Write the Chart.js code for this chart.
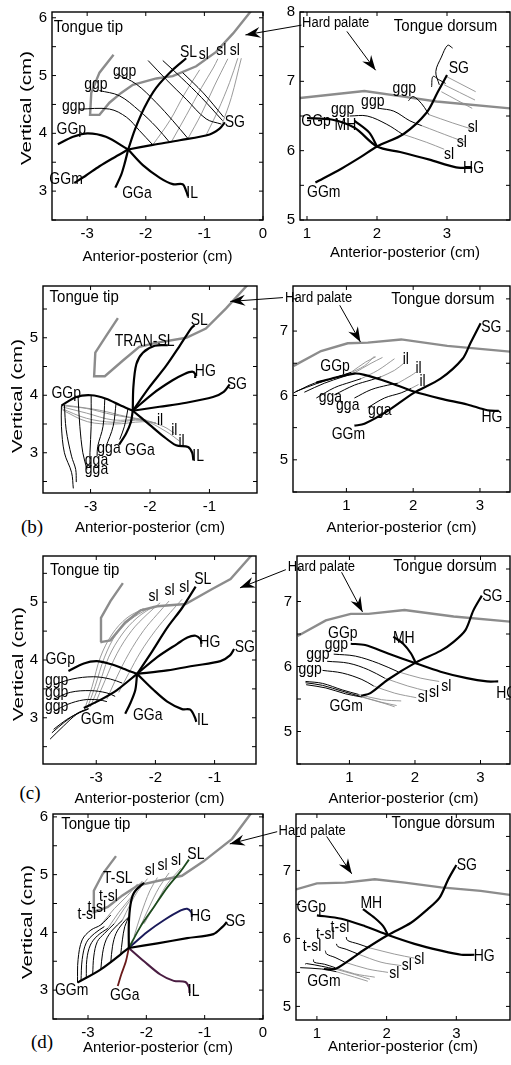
<!DOCTYPE html>
<html>
<head>
<meta charset="utf-8">
<script src="https://cdn.jsdelivr.net/npm/chart.js@4.4.0/dist/chart.umd.min.js"></script>
<style>
    body { margin: 0; background: #fff; width: 511px; height: 1065px; overflow: hidden; position: relative; }
    .tag { position: absolute; font-family: 'Liberation Serif', 'Times New Roman', serif; font-size: 19px; transform: translate(-50%, -50%); }
</style>
</head>
<body>
<div class="tag" style="left:32px;top:527px">(b)</div>
<div class="tag" style="left:30px;top:793px">(c)</div>
<div class="tag" style="left:42px;top:1042px">(d)</div>
<script>
/* ---------- tick labels ---------- */
const tip1X = [-3, -2, -1, 0]
const tip1Y = [3, 4, 5, 6]
const dor1X = [1, 2, 3]
const dor1Y = [5, 6, 7, 8]
const tip2X = [-3, -2, -1]
const tip2Y = [3, 4, 5]
const dor2X = [1, 2, 3]
const dor2Y = [5, 6, 7]
const tip3X = [-3, -2, -1]
const tip3Y = [3, 4, 5]
const dor3X = [1, 2, 3]
const dor3Y = [5, 6, 7]
const tip4X = [-3, -2, -1, 0]
const tip4Y = [3, 4, 5, 6]
const dor4X = [1, 2, 3]
const dor4Y = [5, 6, 7]

/* ---------- row 1, tongue tip ---------- */
const tip1Palate = [[-0.17, 6.16], [-0.51, 5.73], [-0.80, 5.41], [-1.14, 5.16], [-1.54, 4.99], [-1.82, 4.95], [-2.22, 4.84], [-2.42, 4.70], [-2.62, 4.53], [-2.79, 4.32], [-2.95, 4.32], [-2.93, 4.70], [-2.79, 5.05], [-2.55, 5.36]]
const tip1GGp = [[-3.50, 3.81], [-3.24, 3.94], [-2.99, 4.0], [-2.68, 3.94], [-2.30, 3.72]]
const tip1IL = [[-2.30, 3.72], [-2.05, 3.45], [-1.76, 3.23], [-1.54, 3.12], [-1.37, 3.12], [-1.31, 3.0], [-1.28, 2.91]]
const tip1GGm = [[-3.22, 3.14], [-3.02, 3.27], [-2.79, 3.43], [-2.56, 3.57], [-2.30, 3.72]]
const tip1GGa = [[-2.52, 3.06], [-2.42, 3.28], [-2.36, 3.48], [-2.30, 3.72]]
const tip1SL = [[-2.30, 3.72], [-2.19, 4.05], [-2.02, 4.45], [-1.82, 4.79], [-1.54, 5.10], [-1.31, 5.30]]
const tip1SG = [[-2.30, 3.72], [-1.88, 3.80], [-1.42, 3.88], [-0.91, 3.98], [-0.74, 4.08], [-0.65, 4.19]]
const tip1Ggp = [
    [[-3.13, 4.42], [-2.62, 4.42], [-2.33, 4.28], [-2.11, 4.05], [-1.88, 3.80]],
    [[-2.79, 4.74], [-2.45, 4.65], [-2.11, 4.39], [-1.82, 4.11], [-1.59, 3.84]],
    [[-2.50, 5.03], [-2.16, 4.85], [-1.82, 4.53], [-1.54, 4.22], [-1.28, 3.91]],
    [[-1.96, 5.26], [-1.65, 4.93], [-1.31, 4.59], [-0.97, 4.25], [-0.71, 4.16]],
    [[-1.71, 5.26], [-1.39, 4.96], [-1.05, 4.62], [-0.69, 4.22]],
    [[-1.37, 5.05], [-1.02, 4.70], [-0.67, 4.28]]
]
const tip1Sl = [
    [[-1.88, 3.80], [-1.59, 4.22], [-1.34, 4.68], [-1.08, 5.10]],
    [[-1.57, 3.84], [-1.31, 4.31], [-1.05, 4.79], [-0.85, 5.13], [-0.77, 5.29]],
    [[-1.28, 3.91], [-1.05, 4.34], [-0.83, 4.82], [-0.60, 5.29]],
    [[-0.97, 3.97], [-0.77, 4.39], [-0.57, 4.88], [-0.43, 5.30]],
    [[-0.69, 4.18], [-0.54, 4.62], [-0.37, 5.30]]
]
const tip1Labels = [['Tongue tip', -3.57, 5.84, 'title'], ['ggp', -2.36, 5.07], ['ggp', -2.85, 4.85], ['ggp', -3.23, 4.46], ['GGp', -3.27, 4.06], ['GGm', -3.36, 3.20], ['GGa', -2.15, 2.96], ['IL', -1.21, 2.95], ['SG', -0.48, 4.19], ['SL', -1.27, 5.40], ['sl', -1.01, 5.36], ['sl', -0.71, 5.43], ['sl', -0.48, 5.43]]

/* ---------- row 1, tongue dorsum ---------- */
const dor1Palate = [[0.9, 6.76], [1.82, 6.86], [2.38, 6.78], [2.85, 6.71], [3.9, 6.61]]
const dor1GGpHG = [[1.0, 6.47], [1.35, 6.45], [1.68, 6.33], [2.0, 6.06], [2.33, 5.98], [2.75, 5.87], [3.13, 5.76], [3.36, 5.75]]
const dor1GGmSG = [[1.12, 5.54], [1.49, 5.74], [1.77, 5.91], [2.0, 6.06], [2.38, 6.24], [2.71, 6.55], [2.87, 6.85], [3.0, 7.09]]
const dor1MH = [[1.68, 6.43], [1.89, 6.26], [2.0, 6.06]]
const dor1Hooks = [
    [[2.89, 6.95], [2.84, 7.14], [2.92, 7.35], [3.01, 7.52], [3.08, 7.48]],
    [[2.78, 6.92], [2.80, 7.07], [2.89, 7.02], [2.98, 6.97]]
]
const dor1Ggp = [
    [[1.61, 6.50], [1.86, 6.50], [2.14, 6.38], [2.36, 6.24]],
    [[2.03, 6.61], [2.24, 6.57], [2.47, 6.43], [2.64, 6.36]],
    [[2.45, 6.72], [2.51, 6.78], [2.59, 6.73], [2.68, 6.62], [2.74, 6.52]]
]
const dor1Sl = [
    [[2.36, 6.24], [2.71, 6.12], [2.96, 6.02]],
    [[2.64, 6.36], [3.08, 6.19], [3.27, 6.12]],
    [[2.74, 6.52], [3.08, 6.40], [3.36, 6.31]],
    [[2.99, 7.07], [3.41, 6.85]],
    [[2.96, 6.95], [3.40, 6.73]],
    [[2.92, 6.85], [3.36, 6.61]]
]
const dor1Labels = [['Hard palate', 0.93, 7.84, 'note'], ['Tongue dorsum', 2.24, 7.79, 'title'], ['ggp', 2.39, 6.89], ['ggp', 1.94, 6.71], ['ggp', 1.51, 6.59], ['GGp', 1.13, 6.42], ['MH', 1.55, 6.36], ['SG', 3.17, 7.18], ['sl', 3.37, 6.34], ['sl', 3.21, 6.12], ['sl', 3.03, 5.94], ['HG', 3.38, 5.74], ['GGm', 1.24, 5.39]]
const dor1Arrows = [[[0.92, 7.81], [0.12, 7.67]], [[1.57, 7.72], [1.98, 7.16]]]

/* ---------- row 2, tongue tip ---------- */
const tip2Palate = [[-0.2, 6.1], [-0.72, 5.51], [-1.06, 5.16], [-1.39, 5.0], [-1.90, 4.91], [-2.18, 4.84], [-2.46, 4.60], [-2.76, 4.33], [-2.94, 4.33], [-2.92, 4.74], [-2.74, 5.03], [-2.54, 5.34]]
const tip2GGp = [[-3.49, 3.82], [-3.24, 3.97], [-2.99, 4.0], [-2.74, 3.94], [-2.51, 3.83], [-2.29, 3.73]]
const tip2IL = [[-2.29, 3.73], [-2.01, 3.49], [-1.78, 3.29], [-1.56, 3.13], [-1.36, 3.10], [-1.29, 3.0], [-1.27, 2.87]]
const tip2GGa = [[-2.29, 3.73], [-2.32, 3.54], [-2.40, 3.34], [-2.52, 3.14]]
const tip2TranSL = [[-2.29, 3.73], [-2.28, 4.14], [-2.23, 4.54], [-2.12, 4.74], [-1.92, 4.86], [-1.70, 4.87]]
const tip2SL = [[-2.29, 3.73], [-2.01, 4.14], [-1.73, 4.51], [-1.50, 4.86], [-1.31, 5.16], [-1.25, 5.22]]
const tip2HG = [[-2.29, 3.73], [-1.95, 4.03], [-1.62, 4.26], [-1.42, 4.37], [-1.29, 4.41], [-1.24, 4.37], [-1.24, 4.30]]
const tip2SG = [[-2.29, 3.73], [-1.84, 3.80], [-1.39, 3.87], [-0.94, 3.97], [-0.76, 4.06], [-0.66, 4.19]]
const tip2Gga = [
    [[-3.49, 3.82], [-3.49, 3.46], [-3.44, 3.0], [-3.32, 2.66], [-3.29, 2.38]],
    [[-3.44, 3.83], [-3.41, 3.40], [-3.32, 2.94], [-3.25, 2.71], [-3.24, 2.49]],
    [[-3.21, 3.97], [-3.18, 3.46], [-3.13, 3.0], [-3.06, 2.71]],
    [[-2.99, 4.0], [-2.99, 3.46], [-3.01, 3.0], [-3.01, 2.77]],
    [[-2.76, 3.94], [-2.79, 3.46], [-2.88, 3.11], [-2.89, 2.94]],
    [[-2.57, 3.87], [-2.62, 3.46], [-2.74, 3.11]],
    [[-2.37, 3.77], [-2.43, 3.46], [-2.51, 3.23]]
]
const tip2Il = [
    [[-3.49, 3.82], [-3.07, 3.77], [-2.62, 3.66], [-2.12, 3.57], [-1.90, 3.51]],
    [[-3.49, 3.80], [-3.07, 3.69], [-2.62, 3.57], [-2.12, 3.57], [-1.78, 3.46], [-1.59, 3.34]],
    [[-3.49, 3.77], [-3.07, 3.60], [-2.62, 3.53], [-2.12, 3.56], [-1.73, 3.37], [-1.50, 3.20]],
    [[-3.47, 3.74], [-3.05, 3.54], [-2.60, 3.50], [-2.12, 3.54], [-1.90, 3.52]],
    [[-3.44, 3.83], [-2.85, 3.74], [-2.40, 3.63], [-2.06, 3.57]]
]
const tip2Labels = [['Tongue tip', -3.69, 5.70, 'title'], ['TRAN-SL', -2.09, 4.93], ['SL', -1.17, 5.30], ['HG', -1.07, 4.42], ['SG', -0.54, 4.19], ['GGp', -3.41, 4.03], ['il', -1.83, 3.56], ['il', -1.59, 3.39], ['il', -1.47, 3.20], ['IL', -1.19, 2.94], ['GGa', -2.17, 3.03], ['gga', -2.69, 3.07], ['gga', -2.90, 2.87], ['gga', -2.90, 2.71]]

/* ---------- row 2, tongue dorsum ---------- */
const dor2Palate = [[0.21, 6.46], [0.62, 6.69], [1.02, 6.81], [1.32, 6.82], [1.82, 6.87], [2.51, 6.77], [3.45, 6.68]]
const dor2GGpHG = [[0.55, 6.2], [0.77, 6.26], [1.12, 6.34], [1.27, 6.32], [1.62, 6.21], [2.01, 6.06], [2.41, 5.95], [2.81, 5.86], [3.11, 5.77], [3.28, 5.76]]
const dor2GGmSG = [[1.12, 5.53], [1.27, 5.56], [1.62, 5.76], [2.01, 6.04], [2.41, 6.26], [2.74, 6.57], [2.86, 6.82], [3.01, 7.12]]
const dor2Gga = [
    [[0.21, 6.04], [0.52, 6.19], [0.82, 6.27], [1.04, 6.34]],
    [[0.24, 6.06], [0.57, 6.19], [0.87, 6.29], [1.07, 6.36]],
    [[0.37, 6.05], [0.67, 6.19], [0.95, 6.29], [1.12, 6.35]],
    [[0.55, 5.96], [0.82, 6.12], [1.07, 6.21], [1.22, 6.26]],
    [[0.82, 6.01], [1.12, 6.16], [1.37, 6.24], [1.52, 6.29]],
    [[1.12, 5.96], [1.37, 6.09], [1.62, 6.16], [1.77, 6.19]],
    [[1.32, 5.81], [1.57, 5.96], [1.82, 6.04], [1.97, 6.11]]
]
const dor2Il = [
    [[1.04, 6.34], [1.27, 6.46], [1.42, 6.61]],
    [[1.07, 6.36], [1.29, 6.52], [1.44, 6.60]],
    [[1.12, 6.35], [1.37, 6.50], [1.54, 6.59]],
    [[1.22, 6.26], [1.47, 6.39], [1.72, 6.57]],
    [[1.52, 6.29], [1.72, 6.39], [1.86, 6.50]],
    [[1.77, 6.19], [1.97, 6.31], [2.04, 6.36]],
    [[1.97, 6.11], [2.08, 6.17]]
]
const dor2Labels = [['Hard palate', 0.08, 7.52, 'note'], ['Tongue dorsum', 1.67, 7.5, 'title'], ['SG', 3.17, 7.05], ['GGp', 0.83, 6.45], ['il', 1.89, 6.56], ['il', 2.08, 6.41], ['il', 2.14, 6.22], ['gga', 0.76, 5.97], ['gga', 1.02, 5.85], ['gga', 1.50, 5.77], ['GGm', 1.03, 5.40], ['HG', 3.18, 5.65]]
const dor2Arrows = [[[0.05, 7.52], [-0.74, 7.46]], [[0.90, 7.40], [1.21, 6.83]]]

/* ---------- row 3, tongue tip ---------- */
const tip3Palate = [[-0.3, 5.9], [-0.73, 5.40], [-1.04, 5.23], [-1.49, 4.97], [-1.97, 4.93], [-2.25, 4.86], [-2.51, 4.65], [-2.76, 4.34], [-2.93, 4.31], [-2.92, 4.73], [-2.76, 5.02], [-2.55, 5.33]]
const tip3GGp = [[-3.47, 3.81], [-3.21, 3.94], [-2.99, 3.98], [-2.76, 3.93], [-2.54, 3.85], [-2.31, 3.76]]
const tip3IL = [[-2.31, 3.76], [-2.03, 3.48], [-1.80, 3.28], [-1.55, 3.15], [-1.41, 3.14], [-1.33, 3.0], [-1.31, 2.93]]
const tip3GGa = [[-2.31, 3.76], [-2.34, 3.48], [-2.42, 3.26], [-2.51, 3.07]]
const tip3GGm = [[-2.31, 3.76], [-2.65, 3.48], [-2.93, 3.31], [-3.21, 3.17]]
const tip3SL = [[-2.31, 3.76], [-2.08, 4.11], [-1.80, 4.56], [-1.55, 4.90], [-1.32, 5.27]]
const tip3HG = [[-2.31, 3.76], [-1.97, 4.05], [-1.63, 4.28], [-1.46, 4.39], [-1.32, 4.42], [-1.24, 4.36], [-1.22, 4.28]]
const tip3SG = [[-2.31, 3.76], [-1.80, 3.82], [-1.35, 3.90], [-0.90, 3.98], [-0.74, 4.08], [-0.67, 4.19]]
const tip3Ggp = [
    [[-3.72, 3.57], [-3.41, 3.67], [-3.05, 3.71], [-2.76, 3.67], [-2.56, 3.60]],
    [[-3.72, 3.32], [-3.44, 3.44], [-3.10, 3.47], [-2.82, 3.43], [-2.68, 3.37]],
    [[-3.72, 3.11], [-3.49, 3.23], [-3.21, 3.31], [-2.96, 3.31], [-2.82, 3.28]],
    [[-3.78, 2.63], [-3.55, 2.86], [-3.33, 3.06], [-3.13, 3.15]],
    [[-3.75, 2.74], [-3.53, 2.93], [-3.30, 3.09], [-3.13, 3.16]],
    [[-3.72, 2.80], [-3.50, 2.97], [-3.27, 3.10], [-3.15, 3.15]]
]
const tip3Sl = [
    [[-3.19, 3.17], [-3.07, 3.54], [-2.93, 4.05], [-2.73, 4.45], [-2.48, 4.73], [-2.20, 4.89]],
    [[-3.15, 3.17], [-3.02, 3.54], [-2.86, 4.05], [-2.66, 4.45], [-2.42, 4.70], [-2.14, 4.88]],
    [[-3.10, 3.19], [-2.96, 3.54], [-2.79, 4.05], [-2.56, 4.45], [-2.31, 4.73], [-2.03, 4.93]],
    [[-3.02, 3.24], [-2.85, 3.65], [-2.65, 4.11], [-2.40, 4.51], [-2.14, 4.79], [-1.92, 4.99]],
    [[-2.82, 3.32], [-2.65, 3.71], [-2.45, 4.11], [-2.20, 4.51], [-1.97, 4.79], [-1.77, 5.02]],
    [[-2.62, 3.44], [-2.45, 3.77], [-2.25, 4.14], [-2.0, 4.51], [-1.75, 4.82], [-1.55, 5.05]]
]
const tip3Labels = [['Tongue tip', -3.78, 5.56, 'title'], ['sl', -2.03, 5.09], ['sl', -1.76, 5.20], ['sl', -1.51, 5.26], ['SL', -1.20, 5.40], ['HG', -1.08, 4.31], ['SG', -0.49, 4.22], ['GGp', -3.61, 4.01], ['ggp', -3.67, 3.65], ['ggp', -3.67, 3.44], ['ggp', -3.67, 3.20], ['GGm', -2.98, 2.97], ['GGa', -2.13, 3.03], ['IL', -1.20, 2.96]]

/* ---------- row 3, tongue dorsum ---------- */
const dor3Palate = [[0.21, 6.47], [0.64, 6.71], [1.02, 6.81], [1.29, 6.81], [1.84, 6.87], [2.59, 6.77], [3.45, 6.69]]
const dor3GGpHG = [[1.02, 6.35], [1.24, 6.33], [1.59, 6.20], [2.01, 6.05], [2.39, 5.92], [2.79, 5.82], [3.10, 5.77], [3.27, 5.77]]
const dor3GGmSG = [[1.18, 5.55], [1.32, 5.59], [1.59, 5.80], [2.01, 6.06], [2.39, 6.24], [2.59, 6.38], [2.77, 6.56], [2.89, 6.86], [3.02, 7.09]]
const dor3MH = [[1.67, 6.46], [1.82, 6.35], [1.94, 6.20], [2.01, 6.06]]
const dor3Ggp = [
    [[0.76, 6.19], [1.09, 6.16], [1.44, 6.05], [1.74, 5.92]],
    [[0.66, 6.08], [0.99, 6.05], [1.29, 5.95], [1.54, 5.82]],
    [[0.59, 5.94], [0.89, 5.90], [1.19, 5.80], [1.37, 5.70]],
    [[0.33, 5.77], [0.59, 5.74], [0.89, 5.64], [1.14, 5.57]],
    [[0.33, 5.75], [0.59, 5.71], [0.89, 5.62], [1.17, 5.54]],
    [[0.34, 5.72], [0.64, 5.67], [0.94, 5.58], [1.19, 5.53]]
]
const dor3Sl = [
    [[1.74, 5.92], [2.09, 5.82], [2.37, 5.77]],
    [[1.54, 5.82], [1.89, 5.70], [2.19, 5.62]],
    [[1.37, 5.70], [1.69, 5.59], [2.02, 5.52]],
    [[1.14, 5.57], [1.49, 5.49], [1.79, 5.47]],
    [[1.17, 5.54], [1.49, 5.45], [1.72, 5.40]],
    [[1.19, 5.53], [1.54, 5.43], [1.69, 5.38]]
]
const dor3Labels = [['Hard palate', 0.06, 7.54, 'note'], ['Tongue dorsum', 1.67, 7.55, 'title'], ['SG', 3.18, 7.08], ['GGp', 0.90, 6.51], ['ggp', 0.80, 6.33], ['ggp', 0.52, 6.18], ['ggp', 0.40, 5.95], ['MH', 1.83, 6.43], ['sl', 2.48, 5.69], ['sl', 2.29, 5.60], ['sl', 2.12, 5.52], ['GGm', 0.95, 5.39], ['HG', 3.24, 5.59, 'left']]
const dor3Arrows = [[[0.03, 7.49], [-0.67, 7.21]], [[0.88, 7.45], [1.20, 6.84]]]

/* ---------- row 4, tongue tip ---------- */
const tip4Palate = [[-0.14, 6.15], [-0.53, 5.62], [-1.02, 5.23], [-1.39, 4.98], [-1.81, 4.89], [-2.15, 4.81], [-2.41, 4.64], [-2.66, 4.44], [-2.90, 4.35], [-2.90, 4.72], [-2.75, 5.01], [-2.52, 5.32]]
const tip4GGm = [[-3.18, 3.13], [-2.78, 3.36], [-2.30, 3.73]]
const tip4TSL = [[-2.30, 3.73], [-2.30, 4.15], [-2.27, 4.49], [-2.21, 4.69], [-2.04, 4.86]]
const tip4SL = [[-2.30, 3.73], [-2.10, 4.10], [-1.87, 4.44], [-1.64, 4.78], [-1.41, 5.06], [-1.27, 5.26]]
const tip4HG = [[-2.30, 3.73], [-1.98, 4.01], [-1.70, 4.21], [-1.41, 4.38], [-1.30, 4.41], [-1.23, 4.35], [-1.22, 4.27]]
const tip4SG = [[-2.30, 3.73], [-1.81, 3.81], [-1.30, 3.90], [-0.85, 3.97], [-0.69, 4.10], [-0.62, 4.18]]
const tip4IL = [[-2.30, 3.73], [-2.04, 3.50], [-1.76, 3.27], [-1.53, 3.16], [-1.33, 3.14], [-1.27, 3.05], [-1.26, 2.95]]
const tip4GGa = [[-2.30, 3.73], [-2.35, 3.50], [-2.43, 3.27], [-2.49, 3.07]]
const tip4Tsl = [
    [[-3.18, 3.13], [-3.17, 3.53], [-3.10, 3.87], [-2.95, 4.04], [-2.78, 4.13], [-2.61, 4.30]],
    [[-3.12, 3.16], [-3.10, 3.53], [-3.03, 3.82], [-2.89, 3.98], [-2.72, 4.10]],
    [[-3.03, 3.20], [-3.02, 3.53], [-2.96, 3.78], [-2.84, 3.94], [-2.66, 4.07]],
    [[-2.92, 3.27], [-2.90, 3.59], [-2.84, 3.84], [-2.72, 3.98], [-2.55, 4.15]],
    [[-2.78, 3.36], [-2.75, 3.64], [-2.69, 3.87], [-2.58, 4.04], [-2.41, 4.21]],
    [[-2.61, 3.47], [-2.58, 3.76], [-2.52, 3.98], [-2.41, 4.15], [-2.30, 4.27]],
    [[-2.44, 3.61], [-2.41, 3.87], [-2.37, 4.10], [-2.30, 4.27]]
]
const tip4Sl = [
    [[-2.78, 4.13], [-2.55, 4.41], [-2.32, 4.64], [-2.15, 4.84]],
    [[-2.66, 4.07], [-2.47, 4.35], [-2.27, 4.60], [-2.10, 4.86]],
    [[-2.55, 4.15], [-2.38, 4.41], [-2.22, 4.64], [-2.07, 4.89]],
    [[-2.41, 4.21], [-2.28, 4.48], [-2.15, 4.71], [-1.98, 4.93]],
    [[-2.21, 3.93], [-2.09, 4.32], [-1.94, 4.72], [-1.81, 4.95]],
    [[-2.13, 4.04], [-1.95, 4.44], [-1.78, 4.78], [-1.61, 5.03]],
    [[-2.04, 4.15], [-1.84, 4.49], [-1.64, 4.84], [-1.41, 5.11]]
]
const tip4Labels = [['Tongue tip', -3.46, 5.87, 'title'], ['T-SL', -2.49, 4.94], ['t-sl', -2.65, 4.62], ['t-sl', -2.85, 4.43], ['t-sl', -3.02, 4.31], ['sl', -1.94, 5.07], ['sl', -1.72, 5.16], ['sl', -1.49, 5.25], ['SL', -1.15, 5.34], ['HG', -1.07, 4.27], ['SG', -0.47, 4.18], ['GGm', -3.28, 2.99], ['GGa', -2.37, 2.91], ['IL', -1.19, 2.98]]

/* ---------- row 4, tongue dorsum ---------- */
const dor4Palate = [[0.70, 6.72], [1.0, 6.81], [1.40, 6.82], [1.83, 6.87], [2.26, 6.82], [2.78, 6.75], [3.35, 6.70], [3.77, 6.64]]
const dor4GGpHG = [[1.0, 6.34], [1.35, 6.29], [1.69, 6.18], [2.02, 6.05], [2.40, 5.92], [2.78, 5.82], [3.07, 5.76], [3.26, 5.76]]
const dor4GGmSG = [[1.10, 5.55], [1.26, 5.55], [1.45, 5.67], [1.69, 5.84], [2.02, 6.05], [2.35, 6.23], [2.59, 6.43], [2.76, 6.60], [2.88, 6.86], [3.0, 7.08]]
const dor4MH = [[1.66, 6.43], [1.83, 6.30], [1.95, 6.18], [2.02, 6.05]]
const dor4Tsl = [
    [[1.42, 6.02], [1.44, 5.97], [1.59, 5.92], [1.76, 5.86]],
    [[1.28, 5.92], [1.30, 5.88], [1.42, 5.84], [1.59, 5.77]],
    [[1.12, 5.82], [1.14, 5.77], [1.26, 5.72], [1.40, 5.65]],
    [[0.95, 5.69], [0.96, 5.65], [1.11, 5.62], [1.26, 5.57]],
    [[0.83, 5.62], [0.85, 5.63], [1.07, 5.59], [1.26, 5.55]],
    [[0.76, 5.57], [1.07, 5.55], [1.28, 5.51]]
]
const dor4Sl = [
    [[1.76, 5.86], [2.11, 5.77], [2.40, 5.71]],
    [[1.59, 5.77], [1.92, 5.65], [2.21, 5.60]],
    [[1.40, 5.65], [1.73, 5.55], [2.02, 5.50]],
    [[1.26, 5.57], [1.54, 5.48], [1.83, 5.43]],
    [[1.26, 5.55], [1.54, 5.47], [1.76, 5.40]],
    [[1.28, 5.51], [1.54, 5.43], [1.73, 5.37]]
]
const dor4Labels = [['Hard palate', 0.45, 7.58, 'note'], ['Tongue dorsum', 2.07, 7.69, 'title'], ['SG', 3.15, 7.07], ['GGp', 0.92, 6.45], ['MH', 1.78, 6.51], ['t-sl', 1.33, 6.16], ['t-sl', 1.12, 6.06], ['t-sl', 0.93, 5.88], ['HG', 3.40, 5.74], ['sl', 2.47, 5.69], ['sl', 2.29, 5.60], ['sl', 2.11, 5.49], ['GGm', 1.10, 5.36]]
const dor4Arrows = [[[0.43, 7.57], [-0.25, 7.39]], [[1.14, 7.50], [1.50, 6.95]]]


/* ---------- styles ---------- */
const FONT = "'Liberation Sans', Arial, Helvetica, sans-serif"
Chart.defaults.font.family = FONT
Chart.defaults.color = '#000'

const STYLE = {
    palate: { color: '#8c8c8c', width: 2.4, tension: 0, order: 5 },
    gray: { color: '#8f8f8f', width: 0.9, tension: 0.35, order: 4 },
    thin: { color: '#000', width: 1, tension: 0.35, order: 3 },
    thick: { color: '#000', width: 2.2, tension: 0.3, order: 1 },
    green: { color: '#1d4a1d', width: 1.8, tension: 0.3, order: 2 },
    navy: { color: '#1a1a5a', width: 2, tension: 0.3, order: 2 },
    plum: { color: '#4a1d42', width: 2, tension: 0.3, order: 2 },
    wine: { color: '#6a1a1a', width: 1.8, tension: 0.3, order: 2 }
}
const LABEL_FONT = { title: 15, note: 13 }

const many = (kind, list) => list.map(line => [kind, line])

/* ---------- panel layout ---------- */
const panels = [
    {
        id: 'tip1', side: 'left', frame: [52, 10, 263, 220], xr: [-3.6, 0], yr: [2.5, 6.1], xTicks: tip1X, yTicks: tip1Y, gap: 37, yTitle: [27, 108],
        lines: [['palate', tip1Palate], ...many('gray', tip1Sl), ...many('thin', tip1Ggp), ['thick', tip1GGp], ['thick', tip1IL], ['thick', tip1GGm], ['thick', tip1GGa], ['thick', tip1SL], ['thick', tip1SG]],
        labels: tip1Labels, arrows: []
    },
    {
        id: 'dor1', side: 'right', frame: [300, 10, 510, 220], xr: [0.9, 3.9], yr: [5, 8], xTicks: dor1X, yTicks: dor1Y, gap: 33,
        lines: [['palate', dor1Palate], ...many('gray', dor1Sl), ...many('thin', dor1Ggp), ...many('thin', dor1Hooks), ['thick', dor1GGpHG], ['thick', dor1GGmSG], ['thick', dor1MH]],
        labels: dor1Labels, arrows: dor1Arrows
    },
    {
        id: 'tip2', side: 'left', frame: [43, 284, 257, 493], xr: [-3.8, -0.2], yr: [2.3, 5.9], xTicks: tip2X, yTicks: tip2Y, gap: 35, yTitle: [18, 396],
        lines: [['palate', tip2Palate], ...many('gray', tip2Il), ...many('thin', tip2Gga), ['thick', tip2GGp], ['thick', tip2IL], ['thick', tip2GGa], ['thick', tip2TranSL], ['thick', tip2SL], ['thick', tip2HG], ['thick', tip2SG]],
        labels: tip2Labels, arrows: []
    },
    {
        id: 'dor2', side: 'right', frame: [293, 284, 510, 492], xr: [0.2, 3.45], yr: [4.5, 7.7], xTicks: dor2X, yTicks: dor2Y, gap: 36,
        lines: [['palate', dor2Palate], ...many('gray', dor2Il), ...many('thin', dor2Gga), ['thick', dor2GGpHG], ['thick', dor2GGmSG]],
        labels: dor2Labels, arrows: dor2Arrows
    },
    {
        id: 'tip3', side: 'left', frame: [43, 554, 256, 764], xr: [-3.9, -0.3], yr: [2.2, 5.8], xTicks: tip3X, yTicks: tip3Y, gap: 35, yTitle: [19, 664],
        lines: [['palate', tip3Palate], ...many('gray', tip3Sl), ...many('thin', tip3Ggp), ['thick', tip3GGp], ['thick', tip3IL], ['thick', tip3GGa], ['thick', tip3GGm], ['thick', tip3SL], ['thick', tip3HG], ['thick', tip3SG]],
        labels: tip3Labels, arrows: []
    },
    {
        id: 'dor3', side: 'right', frame: [297, 554, 510, 764], xr: [0.2, 3.45], yr: [4.5, 7.7], xTicks: dor3X, yTicks: dor3Y, gap: 35,
        lines: [['palate', dor3Palate], ...many('gray', dor3Sl), ...many('thin', dor3Ggp), ['thick', dor3GGpHG], ['thick', dor3GGmSG], ['thick', dor3MH]],
        labels: dor3Labels, arrows: dor3Arrows
    },
    {
        id: 'tip4', side: 'left', frame: [53, 812, 263, 1019], xr: [-3.6, 0], yr: [2.5, 6.05], xTicks: tip4X, yTicks: tip4Y, gap: 29, yTitle: [28, 922],
        lines: [['palate', tip4Palate], ...many('gray', tip4Sl), ...many('thin', tip4Tsl), ['thick', tip4GGm], ['thick', tip4TSL], ['green', tip4SL], ['navy', tip4HG], ['thick', tip4SG], ['plum', tip4IL], ['wine', tip4GGa]],
        labels: tip4Labels, arrows: []
    },
    {
        id: 'dor4', side: 'right', frame: [296, 812, 510, 1020], xr: [0.7, 3.77], yr: [4.8, 7.83], xTicks: dor4X, yTicks: dor4Y, gap: 27,
        lines: [['palate', dor4Palate], ...many('gray', dor4Sl), ...many('thin', dor4Tsl), ['thick', dor4GGpHG], ['thick', dor4GGmSG], ['thick', dor4MH]],
        labels: dor4Labels, arrows: dor4Arrows
    }
]

/* annotations looked up by canvas id */
const notes = {}

const drawArrow = (ctx, x1, y1, x2, y2) => {
    ctx.beginPath()
    ctx.moveTo(x1, y1)
    ctx.lineTo(x2, y2)
    ctx.lineWidth = 1
    ctx.strokeStyle = '#000'
    ctx.stroke()
    const ang = Math.atan2(y2 - y1, x2 - x1)
    ctx.save()
    ctx.translate(x2, y2)
    ctx.rotate(ang)
    ctx.beginPath()
    ctx.moveTo(0, 0)
    ctx.lineTo(-15, -5.5)
    ctx.lineTo(-10, 0)
    ctx.lineTo(-15, 5.5)
    ctx.closePath()
    ctx.fillStyle = '#000'
    ctx.fill()
    ctx.restore()
}

const sketchPlugin = {
    id: 'sketch',
    afterDatasetsDraw(chart) {
        const { ctx, chartArea: a, scales: { x, y } } = chart
        const note = notes[chart.canvas.id]
        ctx.save()

        // box and inward ticks
        ctx.strokeStyle = '#000'
        ctx.lineWidth = 1.4
        ctx.strokeRect(a.left, a.top, a.right - a.left, a.bottom - a.top)
        ctx.lineWidth = 1
        ctx.beginPath()
        x.ticks.forEach(t => {
            const px = x.getPixelForValue(t.value)
            ctx.moveTo(px, a.bottom); ctx.lineTo(px, a.bottom - 4)
            ctx.moveTo(px, a.top); ctx.lineTo(px, a.top + 4)
        })
        y.ticks.forEach(t => {
            const py = y.getPixelForValue(t.value)
            ctx.moveTo(a.left, py); ctx.lineTo(a.left + 4, py)
            ctx.moveTo(a.right, py); ctx.lineTo(a.right - 4, py)
        })
        ctx.stroke()

        // arrows
        note.arrows.forEach(([p, q]) => {
            drawArrow(ctx, x.getPixelForValue(p[0]), y.getPixelForValue(p[1]), x.getPixelForValue(q[0]), y.getPixelForValue(q[1]))
        })

        // curve labels
        ctx.fillStyle = '#000'
        ctx.textBaseline = 'middle'
        note.labels.forEach(([text, lx, ly, kind]) => {
            const size = LABEL_FONT[kind] || 14
            ctx.font = `${size}px ${FONT}`
            ctx.textAlign = kind ? 'left' : 'center'
            ctx.save()
            ctx.translate(x.getPixelForValue(lx), y.getPixelForValue(ly))
            ctx.scale(1, 1.15)
            ctx.fillText(text, 0, 0)
            ctx.restore()
        })

        // y axis title, stretched like the scan
        if (note.yTitle) {
            ctx.font = `15px ${FONT}`
            ctx.textAlign = 'center'
            const w = ctx.measureText('Vertical (cm)').width
            ctx.save()
            ctx.translate(note.yTitle[0], note.yTitle[1])
            ctx.rotate(-Math.PI / 2)
            ctx.scale(114 / w, 1)
            ctx.fillText('Vertical (cm)', 0, 0)
            ctx.restore()
        }
        ctx.restore()
    }
}

const pts = arr => arr.map(([x, y]) => ({ x, y }))

const buildPanel = (cfg) => {
    const [fl, ft, fr, fb] = cfg.frame
    const left = cfg.side === 'left' ? 0 : 215
    const top = ft - 12
    const width = cfg.side === 'left' ? fr + 12 : 511 - left
    const height = fb - ft + 12 + 50

    const canvas = document.createElement('canvas')
    canvas.id = cfg.id
    canvas.width = width
    canvas.height = height
    canvas.style.cssText = `position:absolute;left:${left}px;top:${top}px;width:${width}px;height:${height}px`
    document.body.appendChild(canvas)

    notes[cfg.id] = {
        labels: cfg.labels,
        arrows: cfg.arrows,
        yTitle: cfg.yTitle ? [cfg.yTitle[0] - left, cfg.yTitle[1] - top] : null
    }

    const minor = []
    for (let v = Math.ceil(cfg.yr[0] * 2) / 2; v <= cfg.yr[1] + 1e-9; v += 0.5) minor.push(v)

    const datasets = cfg.lines.map(([kind, line]) => {
        const s = STYLE[kind]
        return {
            data: pts(line), showLine: true, pointRadius: 0, fill: false,
            borderColor: s.color, borderWidth: s.width, tension: s.tension, order: s.order
        }
    })

    new Chart(canvas, {
        type: 'scatter',
        data: { datasets },
        options: {
            responsive: false,
            animation: false,
            events: [],
            layout: { padding: { top: 12, right: width - (fr - left), left: 0, bottom: 0 } },
            plugins: { legend: { display: false }, tooltip: { enabled: false } },
            scales: {
                x: {
                    type: 'linear', position: 'bottom', min: cfg.xr[0], max: cfg.xr[1],
                    grid: { display: false, drawTicks: false }, border: { display: false },
                    afterBuildTicks: s => { s.ticks = cfg.xTicks.map(v => ({ value: v })) },
                    afterFit: s => { s.height = 50 },
                    ticks: { padding: 5, font: { size: 15 }, color: '#000', maxRotation: 0, autoSkip: false, callback: v => String(v) },
                    title: { display: true, text: 'Anterior-posterior (cm)', font: { size: 15 }, color: '#000', padding: { top: 0, bottom: 50 - 9 - cfg.gap } }
                },
                y: {
                    type: 'linear', position: 'left', min: cfg.yr[0], max: cfg.yr[1],
                    grid: { display: false, drawTicks: false }, border: { display: false },
                    afterBuildTicks: s => { s.ticks = minor.map(v => ({ value: v })) },
                    afterFit: s => { s.width = fl - left },
                    ticks: { padding: 5, font: { size: 15 }, color: '#000', autoSkip: false, callback: v => cfg.yTicks.includes(v) ? String(v) : '' }
                }
            }
        },
        plugins: [sketchPlugin]
    })
}

panels.forEach(buildPanel)
</script>
</body>
</html>
